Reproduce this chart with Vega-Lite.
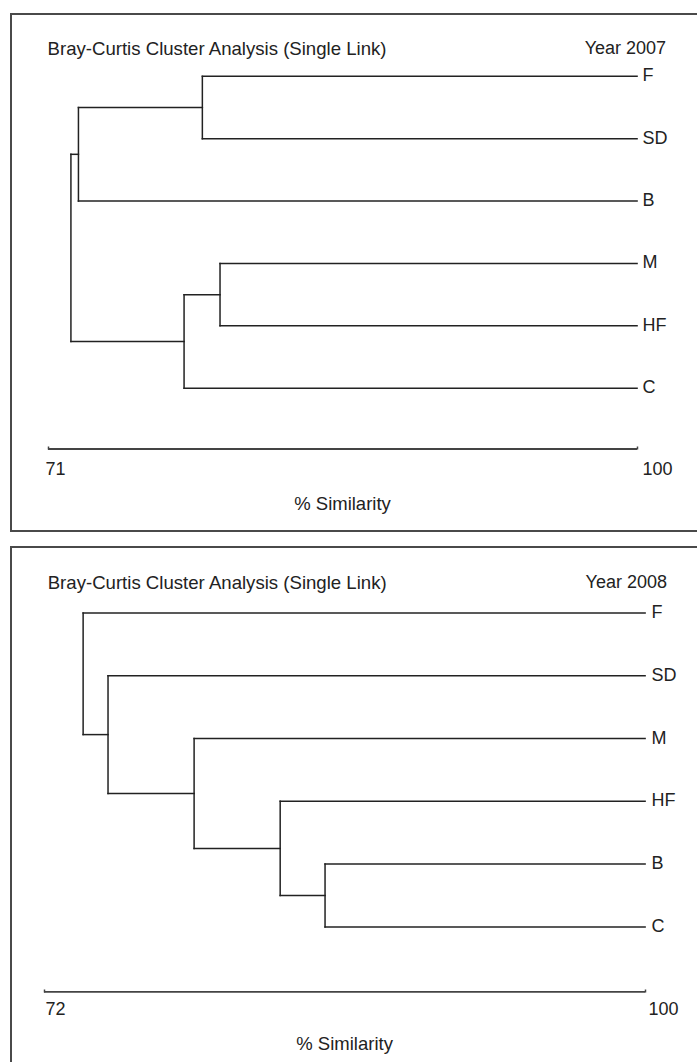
{
  "$schema": "https://vega.github.io/schema/vega-lite/v6.json",
  "padding": {"left": 10, "top": 13, "right": 0, "bottom": 0},
  "spacing": 14,
  "background": "white",
  "config": {
    "view": {"stroke": "#4a4a4a", "strokeWidth": 2},
    "font": "Liberation Sans",
    "text": {"font": "Liberation Sans", "fontSize": 18, "color": "#222"}
  },
  "datasets": {
    "tree2007": [
      {"x": 78.6, "x2": 100, "y": 1, "y2": 1},
      {"x": 78.6, "x2": 100, "y": 2, "y2": 2},
      {"x": 72.5, "x2": 100, "y": 3, "y2": 3},
      {"x": 79.47, "x2": 100, "y": 4, "y2": 4},
      {"x": 79.47, "x2": 100, "y": 5, "y2": 5},
      {"x": 77.7, "x2": 100, "y": 6, "y2": 6},
      {"x": 72.5, "x2": 78.6, "y": 1.5, "y2": 1.5},
      {"x": 77.7, "x2": 79.47, "y": 4.5, "y2": 4.5},
      {"x": 72.13, "x2": 72.5, "y": 2.25, "y2": 2.25},
      {"x": 72.13, "x2": 77.7, "y": 5.25, "y2": 5.25},
      {"x": 78.6, "x2": 78.6, "y": 1, "y2": 2},
      {"x": 72.5, "x2": 72.5, "y": 1.5, "y2": 3},
      {"x": 79.47, "x2": 79.47, "y": 4, "y2": 5},
      {"x": 77.7, "x2": 77.7, "y": 4.5, "y2": 6},
      {"x": 72.13, "x2": 72.13, "y": 2.25, "y2": 5.25}
    ],
    "leaves2007": [
      {"leaf": "F", "y": 1}, {"leaf": "SD", "y": 2}, {"leaf": "B", "y": 3},
      {"leaf": "M", "y": 4}, {"leaf": "HF", "y": 5}, {"leaf": "C", "y": 6}
    ],
    "tree2008": [
      {"x": 73.82, "x2": 100, "y": 1, "y2": 1},
      {"x": 74.98, "x2": 100, "y": 2, "y2": 2},
      {"x": 78.99, "x2": 100, "y": 3, "y2": 3},
      {"x": 83.0, "x2": 100, "y": 4, "y2": 4},
      {"x": 85.09, "x2": 100, "y": 5, "y2": 5},
      {"x": 85.09, "x2": 100, "y": 6, "y2": 6},
      {"x": 83.0, "x2": 85.09, "y": 5.5, "y2": 5.5},
      {"x": 78.99, "x2": 83.0, "y": 4.75, "y2": 4.75},
      {"x": 74.98, "x2": 78.99, "y": 3.875, "y2": 3.875},
      {"x": 73.82, "x2": 74.98, "y": 2.9375, "y2": 2.9375},
      {"x": 85.09, "x2": 85.09, "y": 5, "y2": 6},
      {"x": 83.0, "x2": 83.0, "y": 4, "y2": 5.5},
      {"x": 78.99, "x2": 78.99, "y": 3, "y2": 4.75},
      {"x": 74.98, "x2": 74.98, "y": 2, "y2": 3.875},
      {"x": 73.82, "x2": 73.82, "y": 1, "y2": 2.9375}
    ],
    "leaves2008": [
      {"leaf": "F", "y": 1}, {"leaf": "SD", "y": 2}, {"leaf": "M", "y": 3},
      {"leaf": "HF", "y": 4}, {"leaf": "B", "y": 5}, {"leaf": "C", "y": 6}
    ]
  },
  "vconcat": [
    {
      "width": 700,
      "height": 517,
      "layer": [
        {
          "data": {"name": "tree2007"},
          "mark": {"type": "rule", "color": "#222", "strokeWidth": 1.5, "strokeCap": "square"},
          "encoding": {
            "x": {
              "field": "x", "type": "quantitative",
              "scale": {"domain": [69.18, 103.64], "nice": false, "zero": false},
              "axis": {
                "values": [71, 100], "domain": false, "grid": false, "title": null,
                "offset": -82, "tickSize": -3, "tickWidth": 1.5, "tickColor": "#444",
                "labelAlign": "left", "labelBaseline": "top", "labelPadding": 14,
                "labelFont": "Liberation Sans", "labelFontSize": 18, "labelColor": "#222",
                "labelFlush": false, "labelOverlap": false,
                "labelOffset": {"condition": {"test": "datum.value == 100", "value": 5}, "value": -3}
              }
            },
            "x2": {"field": "x2"},
            "y": {
              "field": "y", "type": "quantitative",
              "scale": {"domain": [0, 8.29], "reverse": true, "nice": false, "zero": false},
              "axis": null
            },
            "y2": {"field": "y2"}
          }
        },
        {
          "data": {"name": "leaves2007"},
          "mark": {"type": "text", "align": "left", "baseline": "middle", "dx": 5.5},
          "encoding": {
            "x": {"datum": 100},
            "y": {"field": "y", "type": "quantitative"},
            "text": {"field": "leaf"}
          }
        },
        {
          "data": {"values": [{}]},
          "mark": {"type": "rule", "color": "#444", "strokeWidth": 1.8},
          "encoding": {"x": {"datum": 71}, "x2": {"datum": 100}, "y": {"datum": 6.975}}
        },
        {
          "data": {"values": [{}]},
          "mark": {"type": "text", "align": "left", "baseline": "middle", "fontSize": 18.6, "text": "Bray-Curtis Cluster Analysis (Single Link)"},
          "encoding": {"x": {"datum": 70.98}, "y": {"datum": 0.56}}
        },
        {
          "data": {"values": [{}]},
          "mark": {"type": "text", "align": "right", "baseline": "middle", "text": "Year 2007"},
          "encoding": {"x": {"datum": 101.43}, "y": {"datum": 0.56}}
        },
        {
          "data": {"values": [{}]},
          "mark": {"type": "text", "align": "center", "baseline": "middle", "fontSize": 18.5, "text": "% Similarity"},
          "encoding": {"x": {"datum": 85.5}, "y": {"datum": 7.86}}
        }
      ]
    },
    {
      "width": 700,
      "height": 530,
      "layer": [
        {
          "data": {"name": "tree2008"},
          "mark": {"type": "rule", "color": "#222", "strokeWidth": 1.5, "strokeCap": "square"},
          "encoding": {
            "x": {
              "field": "x", "type": "quantitative",
              "scale": {"domain": [70.46, 103.07], "nice": false, "zero": false},
              "axis": {
                "values": [72, 100], "domain": false, "grid": false, "title": null,
                "offset": -85, "tickSize": -3, "tickWidth": 1.5, "tickColor": "#444",
                "labelAlign": "left", "labelBaseline": "top", "labelPadding": 11,
                "labelFont": "Liberation Sans", "labelFontSize": 18, "labelColor": "#222",
                "labelFlush": false, "labelOverlap": false,
                "labelOffset": {"condition": {"test": "datum.value == 100", "value": 3}, "value": 1}
              }
            },
            "x2": {"field": "x2"},
            "y": {
              "field": "y", "type": "quantitative",
              "scale": {"domain": [-0.05, 8.39], "reverse": true, "nice": false, "zero": false},
              "axis": null
            },
            "y2": {"field": "y2"}
          }
        },
        {
          "data": {"name": "leaves2008"},
          "mark": {"type": "text", "align": "left", "baseline": "middle", "dx": 6.5},
          "encoding": {
            "x": {"datum": 100},
            "y": {"field": "y", "type": "quantitative"},
            "text": {"field": "leaf"}
          }
        },
        {
          "data": {"values": [{}]},
          "mark": {"type": "rule", "color": "#444", "strokeWidth": 1.8},
          "encoding": {"x": {"datum": 72}, "x2": {"datum": 100}, "y": {"datum": 7.036}}
        },
        {
          "data": {"values": [{}]},
          "mark": {"type": "text", "align": "left", "baseline": "middle", "fontSize": 18.6, "text": "Bray-Curtis Cluster Analysis (Single Link)"},
          "encoding": {"x": {"datum": 72.17}, "y": {"datum": 0.53}}
        },
        {
          "data": {"values": [{}]},
          "mark": {"type": "text", "align": "right", "baseline": "middle", "text": "Year 2008"},
          "encoding": {"x": {"datum": 101.02}, "y": {"datum": 0.53}}
        },
        {
          "data": {"values": [{}]},
          "mark": {"type": "text", "align": "center", "baseline": "middle", "fontSize": 18.5, "text": "% Similarity"},
          "encoding": {"x": {"datum": 86}, "y": {"datum": 7.87}}
        }
      ]
    }
  ]
}
